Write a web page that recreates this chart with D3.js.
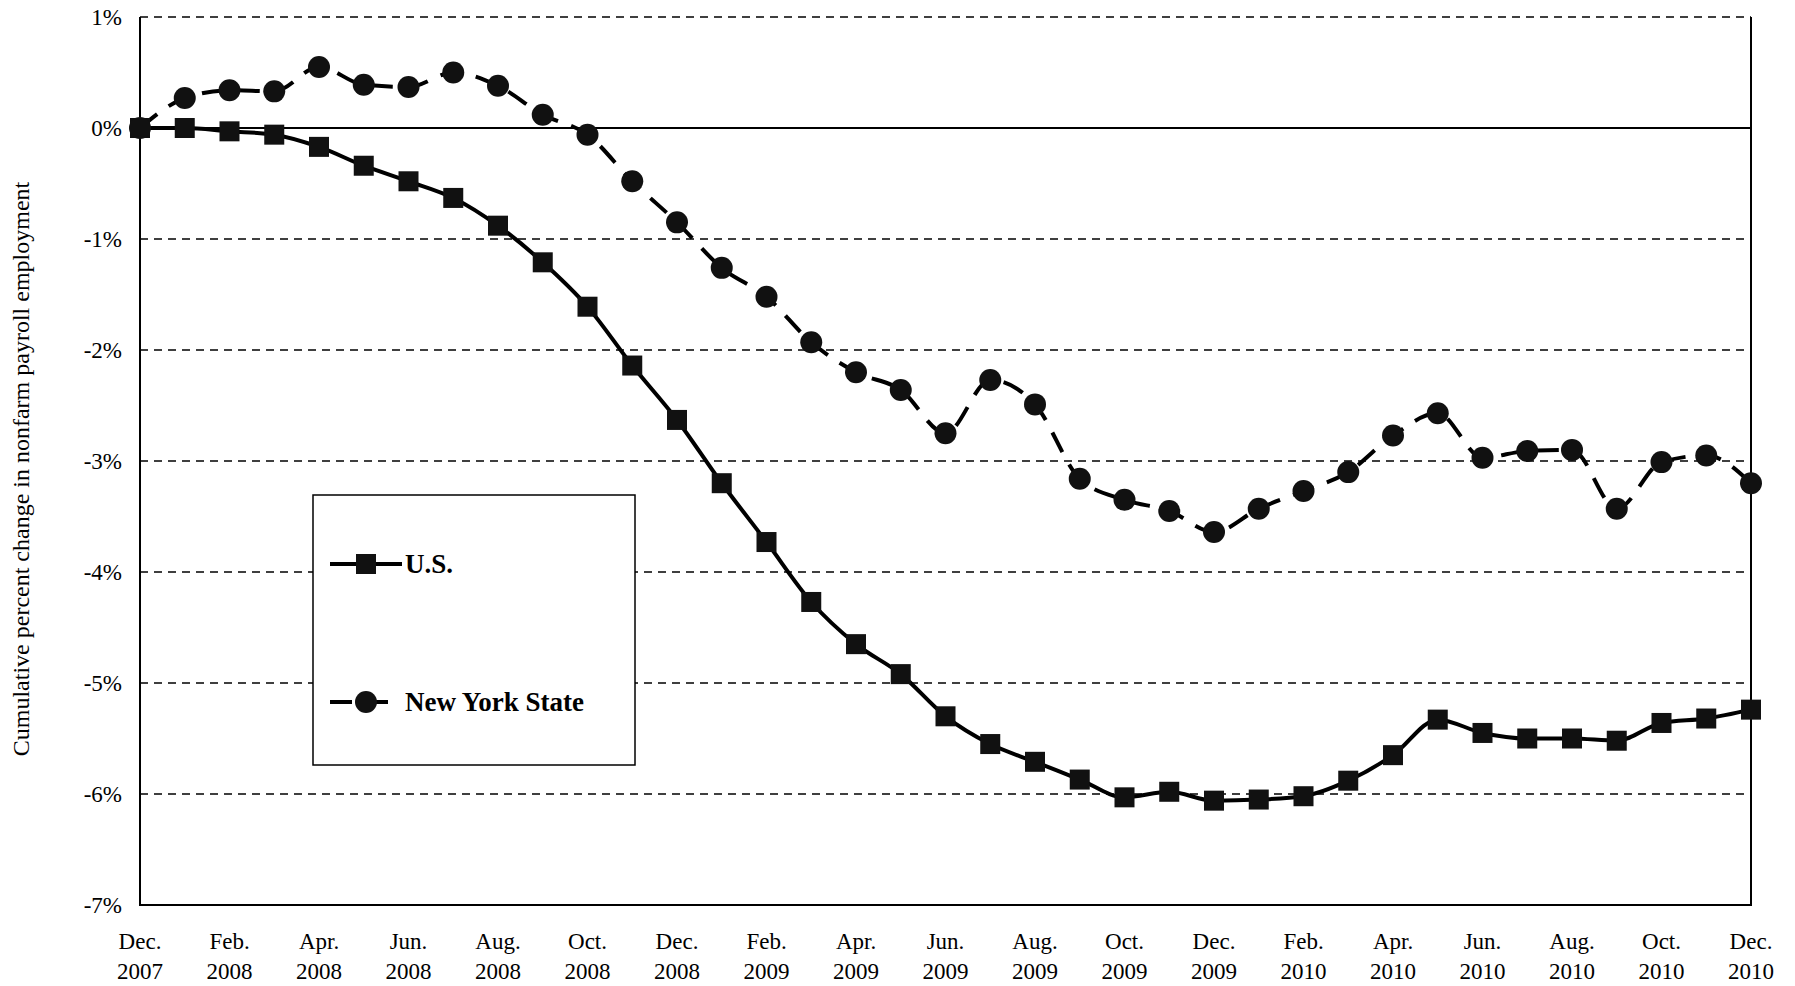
<!DOCTYPE html>
<html><head><meta charset="utf-8">
<script src="https://cdn.jsdelivr.net/npm/d3@7"></script>
<style>body{margin:0;background:#fff}text{font-family:"Liberation Serif","Times New Roman",serif}</style>
</head><body><svg id="c" width="1795" height="986"></svg>
<script>
// months Dec 2007 .. Dec 2010
var months = d3.range(37);
var usValues = [0,0.0,-0.03,-0.06,-0.17,-0.34,-0.48,-0.63,-0.88,-1.21,-1.61,-2.14,-2.63,-3.2,-3.73,-4.27,-4.65,-4.92,-5.3,-5.55,-5.71,-5.87,-6.03,-5.98,-6.06,-6.05,-6.02,-5.88,-5.65,-5.33,-5.45,-5.5,-5.5,-5.52,-5.36,-5.32,-5.24];
var nyValues = [0,0.27,0.34,0.33,0.55,0.39,0.37,0.5,0.38,0.12,-0.06,-0.48,-0.85,-1.26,-1.52,-1.93,-2.2,-2.36,-2.75,-2.27,-2.49,-3.16,-3.35,-3.45,-3.64,-3.43,-3.27,-3.1,-2.77,-2.57,-2.97,-2.91,-2.9,-3.43,-3.01,-2.95,-3.2];
var tickMonths = ["Dec.","Feb.","Apr.","Jun.","Aug.","Oct."];
var yTicks = d3.range(-7, 2);

var svg = d3.select("#c");
var pLeft = 140, pRight = 1751, pTop = 17, pBottom = 905;
var x = d3.scaleLinear().domain([0, 36]).range([pLeft, pRight]);
var y = d3.scaleLinear().domain([-7, 1]).range([pBottom, pTop]);

// gridlines
yTicks.forEach(function(t) {
  if (t === -7) return;
  svg.append("line").attr("x1", pLeft).attr("x2", pRight).attr("y1", y(t)).attr("y2", y(t))
    .attr("stroke", "#000").attr("stroke-width", t === 0 ? 2 : 1.5)
    .attr("stroke-dasharray", t === 0 ? null : "8,6");
});
// frame
svg.append("path").attr("d", "M" + pLeft + "," + pTop + "V" + pBottom + "H" + pRight + "V" + pTop)
  .attr("fill", "none").attr("stroke", "#000").attr("stroke-width", 2);

// y labels
yTicks.forEach(function(t) {
  svg.append("text").attr("x", pLeft - 18).attr("y", y(t) + 8).attr("text-anchor", "end")
    .attr("font-size", 23).text(t + "%");
});
// x labels
months.filter(function(m) { return m % 2 === 0; }).forEach(function(m) {
  var year = 2007 + Math.floor((m + 11) / 12);
  var g = svg.append("text").attr("text-anchor", "middle").attr("font-size", 23);
  g.append("tspan").attr("x", x(m)).attr("y", 949).text(tickMonths[(m / 2) % 6]);
  g.append("tspan").attr("x", x(m)).attr("y", 979).text(year);
});
// y title
svg.append("text").attr("transform", "translate(29," + ((pTop + pBottom) / 2 + 8) + ") rotate(-90)")
  .attr("text-anchor", "middle").attr("font-size", 24)
  .text("Cumulative percent change in nonfarm payroll employment");

var line = d3.line().x(function(d, i) { return x(i); }).y(function(d) { return y(d); }).curve(d3.curveMonotoneX);

svg.append("path").datum(usValues).attr("d", line).attr("fill", "none").attr("stroke", "#000").attr("stroke-width", 4);
svg.append("path").datum(nyValues).attr("d", line).attr("fill", "none").attr("stroke", "#000").attr("stroke-width", 4).attr("stroke-dasharray", "22,14");

svg.selectAll(".sq").data(usValues).enter().append("rect")
  .attr("x", function(d, i) { return x(i) - 10; }).attr("y", function(d) { return y(d) - 10; })
  .attr("width", 20).attr("height", 20).attr("fill", "#111");
svg.selectAll(".ci").data(nyValues).enter().append("circle")
  .attr("cx", function(d, i) { return x(i); }).attr("cy", function(d) { return y(d); })
  .attr("r", 11).attr("fill", "#111");

// legend
svg.append("rect").attr("x", 313).attr("y", 495).attr("width", 322).attr("height", 270)
  .attr("fill", "#fff").attr("stroke", "#000").attr("stroke-width", 1.5);
var legend = [{name: "U.S.", dash: null, shape: "sq", ly: 564}, {name: "New York State", dash: "22,14", shape: "ci", ly: 702}];
legend.forEach(function(l) {
  svg.append("line").attr("x1", 330).attr("x2", 402).attr("y1", l.ly).attr("y2", l.ly)
    .attr("stroke", "#000").attr("stroke-width", 4).attr("stroke-dasharray", l.dash);
  if (l.shape === "sq") svg.append("rect").attr("x", 356).attr("y", l.ly - 10).attr("width", 20).attr("height", 20).attr("fill", "#111");
  else svg.append("circle").attr("cx", 366).attr("cy", l.ly).attr("r", 11).attr("fill", "#111");
  svg.append("text").attr("x", 405).attr("y", l.ly + 9).attr("font-size", 27).attr("font-weight", "bold").text(l.name);
});
</script></body></html>
